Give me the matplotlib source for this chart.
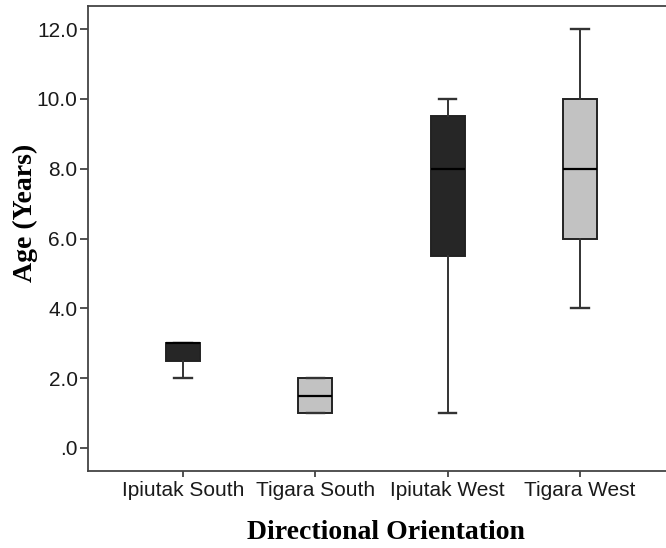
import matplotlib

matplotlib.use("Agg")
import matplotlib.pyplot as plt

# --- Box-plot summaries (age in years) ---
groups = ["Ipiutak South", "Tigara South", "Ipiutak West", "Tigara West"]
whislo = [2.0, 1.0, 1.0, 4.0]
q1 = [2.5, 1.0, 5.5, 6.0]
med = [3.0, 1.5, 8.0, 8.0]
q3 = [3.0, 2.0, 9.5, 10.0]
whishi = [3.0, 2.0, 10.0, 12.0]
fills = ["#262626", "#c2c2c2", "#262626", "#c2c2c2"]
yticks = [0, 2, 4, 6, 8, 10, 12]
ytick_labels = [".0", "2.0", "4.0", "6.0", "8.0", "10.0", "12.0"]

line_col = "#333333"
stats = [
    dict(label=g, whislo=lo, q1=a, med=m, q3=b, whishi=hi, fliers=[])
    for g, lo, a, m, b, hi in zip(groups, whislo, q1, med, q3, whishi)
]

fig = plt.figure(figsize=(6.66, 5.48), dpi=100)
ax = fig.add_axes([88 / 666, 1 - 471 / 548, 578 / 666, 465 / 548])

bp = ax.bxp(
    stats,
    positions=range(1, len(groups) + 1),
    widths=0.257,
    capwidths=0.13,
    patch_artist=True,
    showfliers=False,
    boxprops=dict(edgecolor="#222222", linewidth=1.4),
    medianprops=dict(color="black", linewidth=1.6),
    whiskerprops=dict(color=line_col, linewidth=1.4),
    capprops=dict(color=line_col, linewidth=1.7),
)
for patch, c in zip(bp["boxes"], fills):
    patch.set_facecolor(c)

ax.set_xlim(0.282, 4.65)
ax.set_ylim(-0.66, 12.66)
ax.set_yticks(yticks)
ax.set_yticklabels(ytick_labels)
ax.set_xticks(range(1, len(groups) + 1))
ax.set_xticklabels(groups)

for lab in ax.get_xticklabels() + ax.get_yticklabels():
    lab.set_fontfamily("Liberation Sans")
    lab.set_fontsize(15)
    lab.set_color("#1a1a1a")
ax.tick_params(axis="y", length=6, width=1.2, color=line_col, pad=1.5)
ax.tick_params(axis="x", length=4.5, width=1.2, color=line_col, pad=3)

for side in ("left", "top", "bottom"):
    ax.spines[side].set_color("#444444")
    ax.spines[side].set_linewidth(1.3)
ax.spines["right"].set_visible(False)

ax.set_ylabel("Age (Years)", family="Liberation Serif", fontweight="bold", fontsize=20)
ax.set_xlabel("Directional Orientation", family="Liberation Serif", fontweight="bold", fontsize=20)
ax.yaxis.set_label_coords(-0.087, 0.555)
ax.xaxis.set_label_coords(0.516, -0.106)

fig.savefig("out.png", dpi=100)
